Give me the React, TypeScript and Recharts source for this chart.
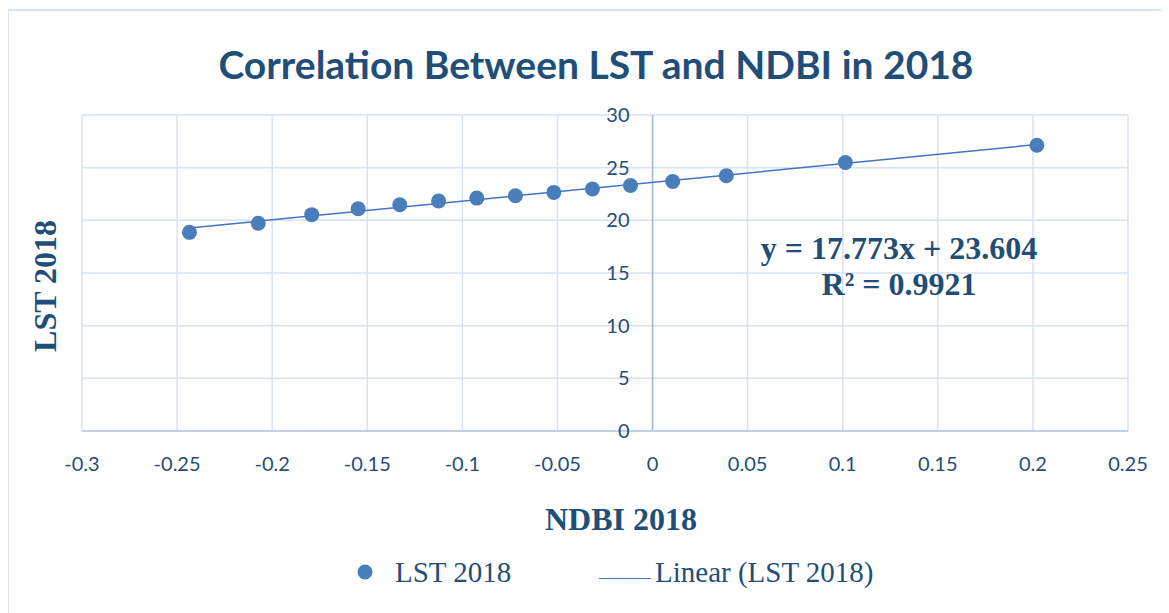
import { ScatterChart, Scatter, XAxis, YAxis, CartesianGrid, ReferenceLine } from 'recharts'

// NDBI (x) vs LST (y)
const ndbi = [-0.2435, -0.2073, -0.1792, -0.1548, -0.1329, -0.1125, -0.0924, -0.0721, -0.0519, -0.0316, -0.0116, 0.0106, 0.0388, 0.1014, 0.2021]
const lst = [18.86, 19.72, 20.54, 21.1, 21.48, 21.83, 22.11, 22.33, 22.65, 22.97, 23.31, 23.69, 24.23, 25.49, 27.13]

const xTicks = [-0.3, -0.25, -0.2, -0.15, -0.1, -0.05, 0, 0.05, 0.1, 0.15, 0.2, 0.25]
const yTicks = [0, 5, 10, 15, 20, 25, 30]

// trendline shown on the chart
const slope = 17.773
const intercept = 23.604
const rSquared = '0.9921'

const NAVY = '#1f4e79'
const DOT = '#4a7ebb'
const LINE = '#4472c4'
const GRID = '#d9e2f3'

const W = 1161
const H = 605
const Y_AXIS_W = 30
const M = { top: 107, right: 41, left: 74 - Y_AXIS_W, bottom: 142 }
const X_MIN = -0.3
const X_MAX = 0.25
const PLOT_LEFT = M.left + Y_AXIS_W
const PLOT_W = W - PLOT_LEFT - M.right
const PLOT_BOTTOM = H - M.bottom - 40
const X_ZERO = PLOT_LEFT + ((0 - X_MIN) / (X_MAX - X_MIN)) * PLOT_W

const points = ndbi.map((x, i) => ({ x, y: lst[i] }))
const trendX = [ndbi[0], ndbi[ndbi.length - 1]]
const trend = trendX.map(x => ({ x, y: slope * x + intercept }))

const tickFont = { fontFamily: 'Lato, sans-serif', fontSize: 20, fill: NAVY }

function XTick(props: any) {
  const { x, payload } = props
  return (
    <text x={x} y={PLOT_BOTTOM + 33} dy="0.35em" textAnchor="middle" {...tickFont}>
      {String(payload.value)}
    </text>
  )
}

// Excel puts the value labels next to the axis crossing at x = 0
function YTick(props: any) {
  const { y, payload } = props
  return (
    <text x={X_ZERO - 23} y={y} dy="0.35em" textAnchor="end" {...tickFont}>
      {payload.value}
    </text>
  )
}

function Dot(props: any) {
  const { cx, cy } = props
  if (cx == null || cy == null) return <g />
  return <circle cx={cx} cy={cy} r={7.5} fill={DOT} />
}

const serifBold = { fontFamily: '"Liberation Serif", "Times New Roman", serif', fontWeight: 700, fontSize: 32, color: NAVY }
const serif = { fontFamily: '"Liberation Serif", "Times New Roman", serif', fontSize: 29, color: NAVY }

export default function App() {
  return (
    <div style={{ position: 'relative', width: W, height: H, overflow: 'hidden', background: '#fff' }}>
      <div style={{ position: 'absolute', left: -1, top: 1, width: W + 10, height: H + 10, borderLeft: '2px solid #dae3f3', borderTop: '2px solid #dae3f3' }} />
      <div style={{ position: 'absolute', left: 588 - 500, width: 1000, top: 33, textAlign: 'center', fontFamily: 'Lato, sans-serif', fontWeight: 700, fontSize: 39, color: NAVY, lineHeight: '46px' }}>
        Correlation Between LST and NDBI in 2018
      </div>
      <ScatterChart width={W} height={H} margin={M} style={{ position: 'absolute', left: 0, top: 0 }}>
        <CartesianGrid stroke={GRID} strokeWidth={1.5} />
        <XAxis
          type="number"
          dataKey="x"
          domain={[X_MIN, X_MAX]}
          ticks={xTicks}
          interval={0}
          height={40}
          tickLine={false}
          axisLine={{ stroke: '#b4c7e7', strokeWidth: 1.5 }}
          tick={<XTick />}
        />
        <YAxis
          type="number"
          dataKey="y"
          domain={[0, 30]}
          ticks={yTicks}
          interval={0}
          width={Y_AXIS_W}
          tickLine={false}
          axisLine={false}
          tick={<YTick />}
        />
        <ReferenceLine x={0} stroke="#9dbbe3" strokeWidth={1.5} />
        <Scatter data={trend} line={{ stroke: LINE, strokeWidth: 1.5 }} shape={() => <g />} isAnimationActive={false} legendType="none" />
        <Scatter data={points} shape={<Dot />} isAnimationActive={false} />
      </ScatterChart>

      {/* axis titles */}
      <div style={{ ...serifBold, position: 'absolute', left: 613 - 150, width: 300, top: 511 - 18, textAlign: 'center', lineHeight: '36px' }}>
        NDBI 2018
      </div>
      <div style={{ ...serifBold, position: 'absolute', left: 37 - 100, width: 200, top: 278 - 18, textAlign: 'center', lineHeight: '36px', transform: 'rotate(-90deg)' }}>
        LST 2018
      </div>

      {/* trendline equation */}
      <div style={{ ...serifBold, position: 'absolute', left: 891 - 200, width: 400, top: 240 - 18, textAlign: 'center', lineHeight: '36px' }}>
        <div>y = {slope}x + {intercept}</div>
        <div>R² = {rSquared}</div>
      </div>

      {/* legend */}
      <div style={{ position: 'absolute', left: 0, top: 564 - 18, height: 36, width: W, ...serif }}>
        <svg width={20} height={20} style={{ position: 'absolute', left: 357 - 10, top: 8 }}>
          <circle cx={10} cy={10} r={7.5} fill={DOT} />
        </svg>
        <span style={{ position: 'absolute', left: 387, top: 0, lineHeight: '36px' }}>LST 2018</span>
        <div style={{ position: 'absolute', left: 591, width: 52, top: 24, borderTop: `1.5px solid ${LINE}` }} />
        <span style={{ position: 'absolute', left: 647, top: 0, lineHeight: '36px' }}>Linear (LST 2018)</span>
      </div>
    </div>
  )
}
